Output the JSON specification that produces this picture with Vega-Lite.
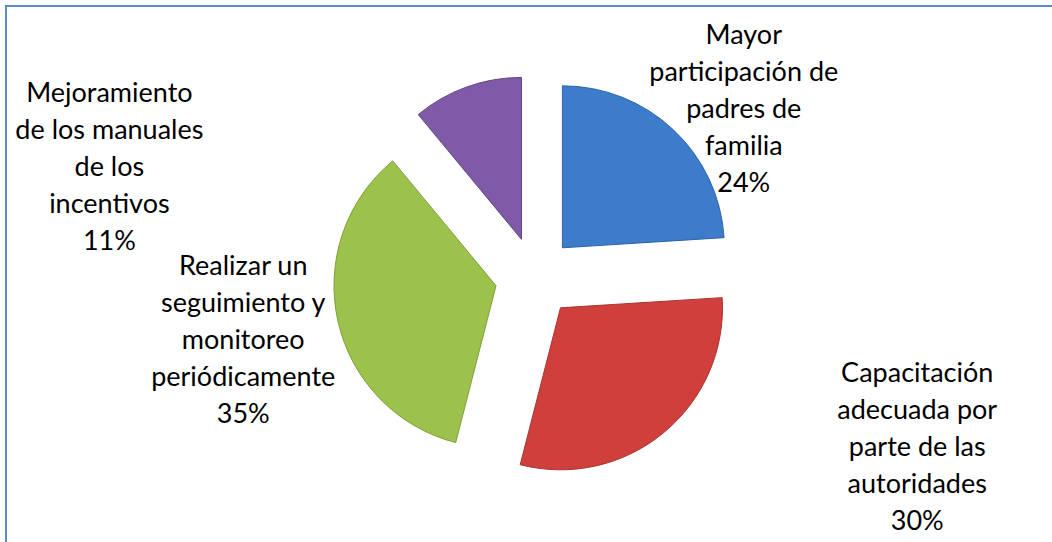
{
  "$schema": "https://vega.github.io/schema/vega-lite/v6.json",
  "width": 1058,
  "height": 542,
  "autosize": "none",
  "padding": {"left": 6, "top": 6, "right": 0, "bottom": 0},
  "background": "white",
  "view": {"stroke": "#5B8BCB", "strokeWidth": 2},
  "data": {
    "values": [
      {"orden": 1, "cat": "Mayor participación de padres de familia", "value": 24, "label": "Mayor\nparticipación de\npadres de\nfamilia\n24%"},
      {"orden": 2, "cat": "Capacitación adecuada por parte de las autoridades", "value": 30, "label": "Capacitación\nadecuada por\nparte de las\nautoridades\n30%"},
      {"orden": 3, "cat": "Realizar un seguimiento y monitoreo periódicamente", "value": 35, "label": "Realizar un\nseguimiento y\nmonitoreo\nperiódicamente\n35%"},
      {"orden": 4, "cat": "Mejoramiento de los manuales de los incentivos", "value": 11, "label": "Mejoramiento\nde los manuales\nde los\nincentivos\n11%"}
    ]
  },
  "transform": [
    {"stack": "value", "groupby": [], "sort": [{"field": "orden", "order": "ascending"}], "as": ["v0", "v1"]}
  ],
  "layer": [
    {
      "transform": [{"filter": "datum.orden === 1"}],
      "mark": {"type": "arc", "outerRadius": 162, "xOffset": 27.4, "yOffset": -29.2, "strokeWidth": 1},
      "encoding": {
        "theta": {"field": "v0", "type": "quantitative", "scale": {"domain": [0, 100]}},
        "theta2": {"field": "v1"},
        "color": {"field": "cat", "type": "nominal", "legend": null, "sort": null,
          "scale": {"domain": ["Mayor participación de padres de familia", "Capacitación adecuada por parte de las autoridades", "Realizar un seguimiento y monitoreo periódicamente", "Mejoramiento de los manuales de los incentivos"],
                    "range": ["#3D7CCB", "#CF3F3B", "#9CC24C", "#7F5AA6"]}},
        "stroke": {"field": "cat", "type": "nominal", "legend": null,
          "scale": {"domain": ["Mayor participación de padres de familia", "Capacitación adecuada por parte de las autoridades", "Realizar un seguimiento y monitoreo periódicamente", "Mejoramiento de los manuales de los incentivos"],
                    "range": ["#2E62A6", "#A83532", "#7E9E3C", "#654784"]}}
      }
    },
    {
      "transform": [{"filter": "datum.orden === 2"}],
      "mark": {"type": "arc", "outerRadius": 162, "xOffset": 25.5, "yOffset": 30.8, "strokeWidth": 1},
      "encoding": {
        "theta": {"field": "v0", "type": "quantitative"},
        "theta2": {"field": "v1"},
        "color": {"field": "cat", "type": "nominal", "legend": null},
        "stroke": {"field": "cat", "type": "nominal", "legend": null}
      }
    },
    {
      "transform": [{"filter": "datum.orden === 3"}],
      "mark": {"type": "arc", "outerRadius": 162, "xOffset": -39.0, "yOffset": 8.7, "strokeWidth": 1},
      "encoding": {
        "theta": {"field": "v0", "type": "quantitative"},
        "theta2": {"field": "v1"},
        "color": {"field": "cat", "type": "nominal", "legend": null},
        "stroke": {"field": "cat", "type": "nominal", "legend": null}
      }
    },
    {
      "transform": [{"filter": "datum.orden === 4"}],
      "mark": {"type": "arc", "outerRadius": 162, "xOffset": -13.5, "yOffset": -37.6, "strokeWidth": 1},
      "encoding": {
        "theta": {"field": "v0", "type": "quantitative"},
        "theta2": {"field": "v1"},
        "color": {"field": "cat", "type": "nominal", "legend": null},
        "stroke": {"field": "cat", "type": "nominal", "legend": null}
      }
    },
    {
      "mark": {"type": "text", "radius": 267, "dx": 26, "dy": -46, "font": "Lato", "fontSize": 27, "lineHeight": 37, "lineBreak": "\n", "align": "center", "baseline": "middle", "color": "#000000"},
      "encoding": {
        "theta": {"field": "value", "type": "quantitative", "stack": true},
        "order": {"field": "orden", "type": "quantitative"},
        "text": {"condition": {"test": "datum.orden === 1", "field": "label"}, "value": ""}
      }
    },
    {
      "mark": {"type": "text", "radius": 300, "dx": 191, "dy": -134, "font": "Lato", "fontSize": 27, "lineHeight": 37, "lineBreak": "\n", "align": "center", "baseline": "middle", "color": "#000000"},
      "encoding": {
        "theta": {"field": "value", "type": "quantitative", "stack": true},
        "order": {"field": "orden", "type": "quantitative"},
        "text": {"condition": {"test": "datum.orden === 2", "field": "label"}, "value": ""}
      }
    },
    {
      "mark": {"type": "text", "radius": 299, "dx": 0, "dy": -75, "font": "Lato", "fontSize": 27, "lineHeight": 37, "lineBreak": "\n", "align": "center", "baseline": "middle", "color": "#000000"},
      "encoding": {
        "theta": {"field": "value", "type": "quantitative", "stack": true},
        "order": {"field": "orden", "type": "quantitative"},
        "text": {"condition": {"test": "datum.orden === 3", "field": "label"}, "value": ""}
      }
    },
    {
      "mark": {"type": "text", "radius": 300, "dx": -324, "dy": 99, "font": "Lato", "fontSize": 27, "lineHeight": 37, "lineBreak": "\n", "align": "center", "baseline": "middle", "color": "#000000"},
      "encoding": {
        "theta": {"field": "value", "type": "quantitative", "stack": true},
        "order": {"field": "orden", "type": "quantitative"},
        "text": {"condition": {"test": "datum.orden === 4", "field": "label"}, "value": ""}
      }
    }
  ]
}
